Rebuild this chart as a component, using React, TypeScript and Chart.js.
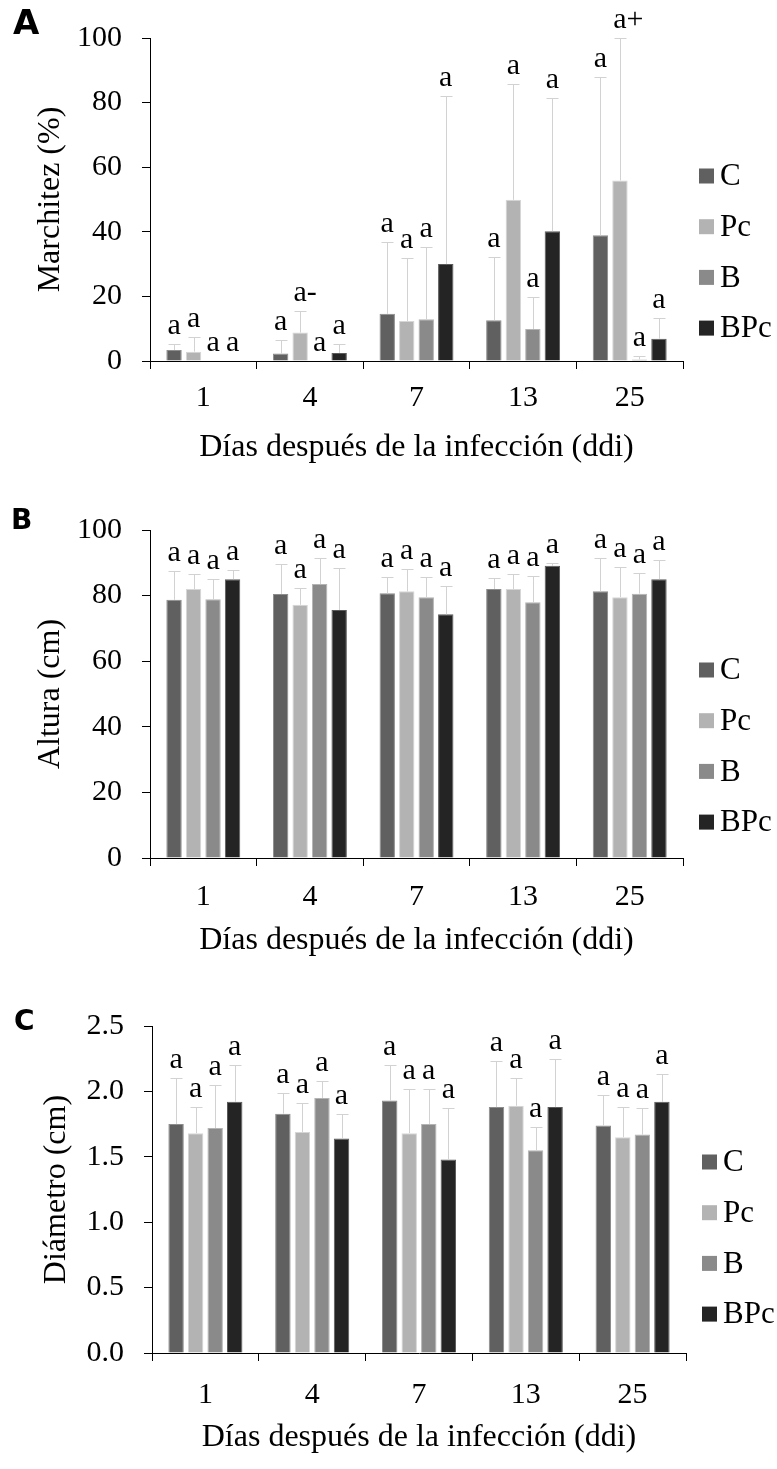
import React, { useEffect, useRef } from "react";
import { Chart, registerables } from "chart.js";

Chart.register(...registerables);

// ---------- data ----------
const days = ["1", "4", "7", "13", "25"];
const seriesNames = ["C", "Pc", "B", "BPc"];
const seriesColors = ["#606060", "#b3b3b3", "#8a8a8a", "#242424"];
const seriesBorders = ["#8c8c8c", "#d6d6d6", "#b4b4b4", "#5a5a5a"];

// A: Marchitez (%)
const wiltC = [3.4, 2.3, 14.6, 12.6, 38.9];
const wiltPc = [2.9, 8.8, 12.4, 49.9, 55.9];
const wiltB = [0, 0, 12.9, 9.9, 0.5];
const wiltBPc = [0, 2.5, 30.0, 40.2, 6.9];
const wiltSdC = [2.0, 4.1, 22.3, 19.6, 49.0];
const wiltSdPc = [4.6, 6.8, 19.4, 36.0, 44.1];
const wiltSdB = [0, 0, 22.4, 10.0, 1.1];
const wiltSdBPc = [0, 2.7, 52.1, 41.3, 6.5];
const wiltLetC = ["a", "a", "a", "a", "a"];
const wiltLetPc = ["a", "a-", "a", "a", "a+"];
const wiltLetB = ["a", "a", "a", "a", "a"];
const wiltLetBPc = ["a", "a", "a", "a", "a"];

// B: Altura (cm)
const heightC = [78.7, 80.5, 80.7, 82.0, 81.3];
const heightPc = [82.0, 77.2, 81.3, 82.0, 79.5];
const heightB = [78.9, 83.5, 79.5, 78.0, 80.6];
const heightBPc = [85.0, 75.6, 74.3, 89.1, 85.0];
const heightSdC = [8.7, 9.1, 4.9, 3.3, 10.3];
const heightSdPc = [4.5, 5.0, 6.7, 4.5, 9.3];
const heightSdB = [6.1, 8.1, 6.1, 7.9, 6.2];
const heightSdBPc = [2.9, 12.7, 8.5, 0.7, 5.8];
const heightLetters = ["a", "a", "a", "a", "a"];

// C: Diámetro (cm)
const diamC = [1.75, 1.83, 1.93, 1.88, 1.74];
const diamPc = [1.68, 1.69, 1.68, 1.89, 1.65];
const diamB = [1.72, 1.95, 1.75, 1.55, 1.67];
const diamBPc = [1.92, 1.64, 1.48, 1.88, 1.92];
const diamSdC = [0.35, 0.16, 0.27, 0.35, 0.23];
const diamSdPc = [0.20, 0.22, 0.34, 0.21, 0.23];
const diamSdB = [0.33, 0.13, 0.27, 0.18, 0.20];
const diamSdBPc = [0.28, 0.19, 0.39, 0.37, 0.21];
const diamLetters = ["a", "a", "a", "a", "a"];

const yTicksWilt = { min: 0, max: 100, step: 20, decimals: 0 };
const yTicksHeight = { min: 0, max: 100, step: 20, decimals: 0 };
const yTicksDiam = { min: 0, max: 2.5, step: 0.5, decimals: 1 };

const xTitle = "Días después de la infección (ddi)";

// ---------- panel configs ----------
type Panel = {
  letter: string;
  letterSize: number;
  letterX: number;
  letterY: number;
  yTitle: string;
  means: number[][];
  sds: number[][];
  letters: string[][];
  ticks: { min: number; max: number; step: number; decimals: number };
  top: number;
  height: number;
  padTop: number;
  padBottom: number;
  padRight: number;
  yWidth: number;
  yTitlePad: number;
  xTickPad: number;
  xTitlePad: number;
  legendOffset: number;
};

const panels: Panel[] = [
  {
    letter: "A", letterSize: 34, letterX: 13, letterY: 34,
    yTitle: "Marchitez (%)",
    means: [wiltC, wiltPc, wiltB, wiltBPc],
    sds: [wiltSdC, wiltSdPc, wiltSdB, wiltSdBPc],
    letters: [wiltLetC, wiltLetPc, wiltLetB, wiltLetBPc],
    ticks: yTicksWilt,
    top: 0, height: 490, padTop: 35, padBottom: 19, padRight: 94, yWidth: 150,
    yTitlePad: 31, xTickPad: 11, xTitlePad: 4, legendOffset: 138,
  },
  {
    letter: "B", letterSize: 28, letterX: 11, letterY: 529 - 490,
    yTitle: "Altura (cm)",
    means: [heightC, heightPc, heightB, heightBPc],
    sds: [heightSdC, heightSdPc, heightSdB, heightSdBPc],
    letters: [heightLetters, heightLetters, heightLetters, heightLetters],
    ticks: yTicksHeight,
    top: 490, height: 490, padTop: 40, padBottom: 12, padRight: 94, yWidth: 150,
    yTitlePad: 31, xTickPad: 13, xTitlePad: 8, legendOffset: 140,
  },
  {
    letter: "C", letterSize: 28, letterX: 14, letterY: 1030 - 980,
    yTitle: "Diámetro (cm)",
    means: [diamC, diamPc, diamB, diamBPc],
    sds: [diamSdC, diamSdPc, diamSdB, diamSdBPc],
    letters: [diamLetters, diamLetters, diamLetters, diamLetters],
    ticks: yTicksDiam,
    top: 980, height: 489, padTop: 46, padBottom: 6, padRight: 91, yWidth: 152,
    yTitlePad: 37, xTickPad: 16, xTitlePad: 6, legendOffset: 136,
  },
];

const SERIF = "'Liberation Serif', 'Times New Roman', serif";
const SANS = "'DejaVu Sans', 'Liberation Sans', sans-serif";

function makeOverlay(p: Panel) {
  return {
    id: "overlay" + p.letter,
    afterDraw(chart: any) {
      const ctx: CanvasRenderingContext2D = chart.ctx;
      const yScale = chart.scales.y;
      const area = chart.chartArea;
      ctx.save();
      // error bars
      ctx.strokeStyle = "#d2d2d2";
      ctx.lineWidth = 1;
      chart.data.datasets.forEach((ds: any, di: number) => {
        const meta = chart.getDatasetMeta(di);
        meta.data.forEach((bar: any, i: number) => {
          const v = ds.data[i];
          const sd = p.sds[di][i];
          if (sd > 0) {
            const yV = yScale.getPixelForValue(v);
            const yT = Math.round(yScale.getPixelForValue(v + sd)) + 0.5;
            const x = Math.round(bar.x) + 0.5;
            ctx.beginPath();
            ctx.moveTo(x, yV);
            ctx.lineTo(x, yT);
            ctx.moveTo(x - 6, yT);
            ctx.lineTo(x + 6, yT);
            ctx.stroke();
          }
        });
      });
      // significance letters
      ctx.fillStyle = "#000";
      ctx.font = "30px " + SERIF;
      ctx.textBaseline = "alphabetic";
      chart.data.datasets.forEach((ds: any, di: number) => {
        const meta = chart.getDatasetMeta(di);
        meta.data.forEach((bar: any, i: number) => {
          const v = ds.data[i];
          const sd = p.sds[di][i];
          const yT = yScale.getPixelForValue(v + sd);
          const lbl = p.letters[di][i];
          const base = lbl.charAt(0);
          const suffix = lbl.slice(1);
          ctx.textAlign = "center";
          ctx.fillText(base, bar.x, yT - 10);
          if (suffix) {
            const w = ctx.measureText(base).width;
            ctx.textAlign = "left";
            ctx.fillText(suffix, bar.x + w / 2, yT - 10);
          }
        });
      });
      // legend
      ctx.font = "31px " + SERIF;
      ctx.textAlign = "left";
      ctx.textBaseline = "middle";
      chart.data.datasets.forEach((ds: any, di: number) => {
        const cy = area.top + p.legendOffset + di * 50.7;
        const sx = area.right + 16;
        ctx.fillStyle = ds.backgroundColor;
        ctx.fillRect(sx, cy - 7.5, 15, 15);
        ctx.fillStyle = "#000";
        ctx.fillText(ds.label, sx + 21, cy + 1);
      });
      // panel letter
      ctx.font = "bold " + p.letterSize + "px " + SANS;
      ctx.textAlign = "left";
      ctx.textBaseline = "alphabetic";
      ctx.fillStyle = "#000";
      ctx.fillText(p.letter, p.letterX, p.letterY);
      ctx.restore();
    },
  };
}

function PanelChart({ panel }: { panel: Panel }) {
  const ref = useRef<HTMLCanvasElement | null>(null);
  useEffect(() => {
    if (!ref.current) return;
    const chart = new Chart(ref.current, {
      type: "bar",
      data: {
        labels: days,
        datasets: seriesNames.map((name, i) => ({
          label: name,
          data: panel.means[i],
          backgroundColor: seriesColors[i],
          borderColor: seriesBorders[i],
          borderWidth: 1,
          categoryPercentage: 0.732,
          barPercentage: 0.79,
        })),
      },
      options: {
        animation: false,
        responsive: false,
        devicePixelRatio: 1,
        layout: {
          padding: { top: panel.padTop, bottom: panel.padBottom, left: 0, right: panel.padRight },
        },
        plugins: {
          legend: { display: false },
          tooltip: { enabled: false },
        },
        scales: {
          x: {
            grid: {
              display: true,
              drawOnChartArea: false,
              drawTicks: true,
              tickLength: 8,
              color: "#000",
              tickColor: "#000",
              offset: true,
            },
            border: { display: true, color: "#000", width: 1 },
            ticks: {
              color: "#000",
              font: { family: SERIF, size: 30 },
              padding: panel.xTickPad,
              maxRotation: 0,
            },
            title: {
              display: true,
              text: xTitle,
              color: "#000",
              font: { family: SERIF, size: 32 },
              padding: { top: 0, bottom: panel.xTitlePad },
            },
            afterFit: (s: any) => {
              s.height = 110;
            },
          },
          y: {
            min: panel.ticks.min,
            max: panel.ticks.max,
            grid: {
              display: true,
              drawOnChartArea: false,
              drawTicks: true,
              tickLength: 8,
              color: "#000",
              tickColor: "#000",
            },
            border: { display: true, color: "#000", width: 1 },
            ticks: {
              stepSize: panel.ticks.step,
              color: "#000",
              font: { family: SERIF, size: 30 },
              padding: 20,
              callback: (v: any) => Number(v).toFixed(panel.ticks.decimals),
            },
            title: {
              display: true,
              text: panel.yTitle,
              color: "#000",
              font: { family: SERIF, size: 32 },
              padding: { top: panel.yTitlePad, bottom: 0 },
            },
            afterFit: (s: any) => {
              s.width = panel.yWidth;
            },
          },
        },
      },
      plugins: [makeOverlay(panel)],
    });
    return () => chart.destroy();
  }, [panel]);
  return (
    <canvas
      ref={ref}
      width={777}
      height={panel.height}
      style={{ position: "absolute", left: 0, top: panel.top, width: 777, height: panel.height, display: "block" }}
    />
  );
}

export default function App() {
  return (
    <div style={{ position: "absolute", left: 0, top: 0, width: 777, height: 1469, background: "#fff" }}>
      {panels.map((p) => (
        <PanelChart key={p.letter} panel={p} />
      ))}
    </div>
  );
}
